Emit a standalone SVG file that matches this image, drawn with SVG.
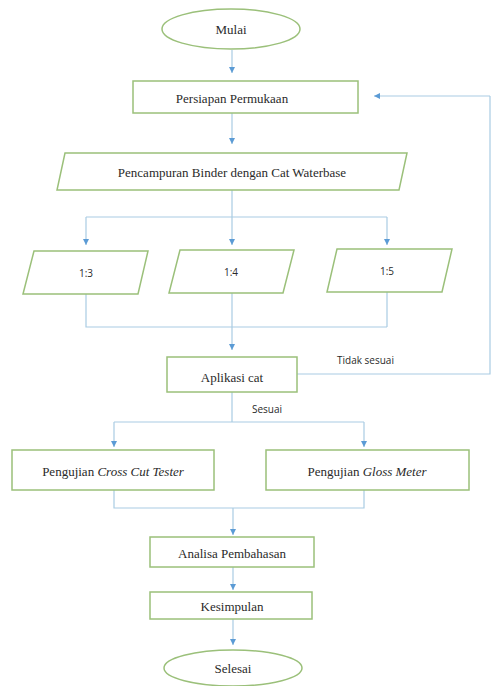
<svg xmlns="http://www.w3.org/2000/svg" width="492" height="686" viewBox="0 0 492 686">
<defs>
<marker id="ah" viewBox="0 0 10 10" refX="10" refY="5" markerWidth="6" markerHeight="6" markerUnits="userSpaceOnUse" orient="auto">
<path d="M0,0 L10,5 L0,10 z" fill="#5b9bd5"/>
</marker>
<style>
.shape{fill:#fff;stroke:#9bc07a;stroke-width:1.5}
.ln{fill:none;stroke:#a9cce3;stroke-width:1.2}
.ar{fill:none;stroke:#a9cce3;stroke-width:1.2;marker-end:url(#ah)}
.t{font-family:"Liberation Serif","Times New Roman",serif;font-size:13px;fill:#2a2a2a;text-anchor:middle;dominant-baseline:central}
.s{font-family:"Open Sans","Liberation Sans",Arial,sans-serif;font-size:10px;fill:#2a2a2a;dominant-baseline:central}
</style>
</defs>
<rect width="492" height="686" fill="#fff"/>
<g id="connectors">
<path class="ar" d="M232,50 V73"/>
<path class="ar" d="M232,113 V144"/>
<path class="ln" d="M232,190 V217 M86,217 H387"/>
<path class="ar" d="M86,217 V245"/>
<path class="ar" d="M232,217 V245"/>
<path class="ar" d="M387,217 V245"/>
<path class="ln" d="M86,294 V327 H387 M387,292 V327"/>
<path class="ar" d="M232,293 V350"/>
<path class="ln" d="M297,374 H490 V96"/>
<path class="ar" d="M490,96 H374"/>
<path class="ln" d="M232,392 V422 M114,422 H364"/>
<path class="ar" d="M114,422 V447"/>
<path class="ar" d="M364,422 V447"/>
<path class="ln" d="M114,490 V508 H364 V490"/>
<path class="ar" d="M233,508 V535"/>
<path class="ar" d="M233,567 V590"/>
<path class="ar" d="M233,619 V645"/>
<text class="s" x="337" y="360">Tidak sesuai</text>
<text class="s" x="252" y="409">Sesuai</text>
</g>
<g id="mulai"><ellipse class="shape" cx="231" cy="29" rx="69" ry="20"/><text class="t" x="231" y="29">Mulai</text></g>
<g id="persiapan"><rect class="shape" x="133" y="81" width="225" height="32"/><text class="t" x="232" y="98">Persiapan Permukaan</text></g>
<g id="pencampuran"><polygon class="shape" points="65,153 407,153 399,190 57,190"/><text class="t" x="232" y="172">Pencampuran Binder dengan Cat Waterbase</text></g>
<g id="r13"><polygon class="shape" points="34,251 148,251 138,294 23,294"/><text class="s" x="86" y="273" text-anchor="middle">1:3</text></g>
<g id="r14"><polygon class="shape" points="180,250 294,250 283,293 169,293"/><text class="s" x="231" y="272" text-anchor="middle">1:4</text></g>
<g id="r15"><polygon class="shape" points="337,249 452,249 442,292 327,292"/><text class="s" x="387" y="271" text-anchor="middle">1:5</text></g>
<g id="aplikasi"><rect class="shape" x="167" y="357" width="130" height="35"/><text class="t" x="232" y="377">Aplikasi cat</text></g>
<g id="crosscut"><rect class="shape" x="12" y="450" width="202" height="40"/><text class="t" x="113" y="471">Pengujian <tspan font-style="italic">Cross Cut Tester</tspan></text></g>
<g id="gloss"><rect class="shape" x="266" y="450" width="203" height="40"/><text class="t" x="367" y="471">Pengujian <tspan font-style="italic">Gloss Meter</tspan></text></g>
<g id="analisa"><rect class="shape" x="150" y="537" width="164" height="30"/><text class="t" x="232" y="553">Analisa Pembahasan</text></g>
<g id="kesimpulan"><rect class="shape" x="150" y="592" width="162" height="27"/><text class="t" x="232" y="606">Kesimpulan</text></g>
<g id="selesai"><ellipse class="shape" cx="233" cy="668" rx="69" ry="18"/><text class="t" x="233" y="668">Selesai</text></g>
</svg>
